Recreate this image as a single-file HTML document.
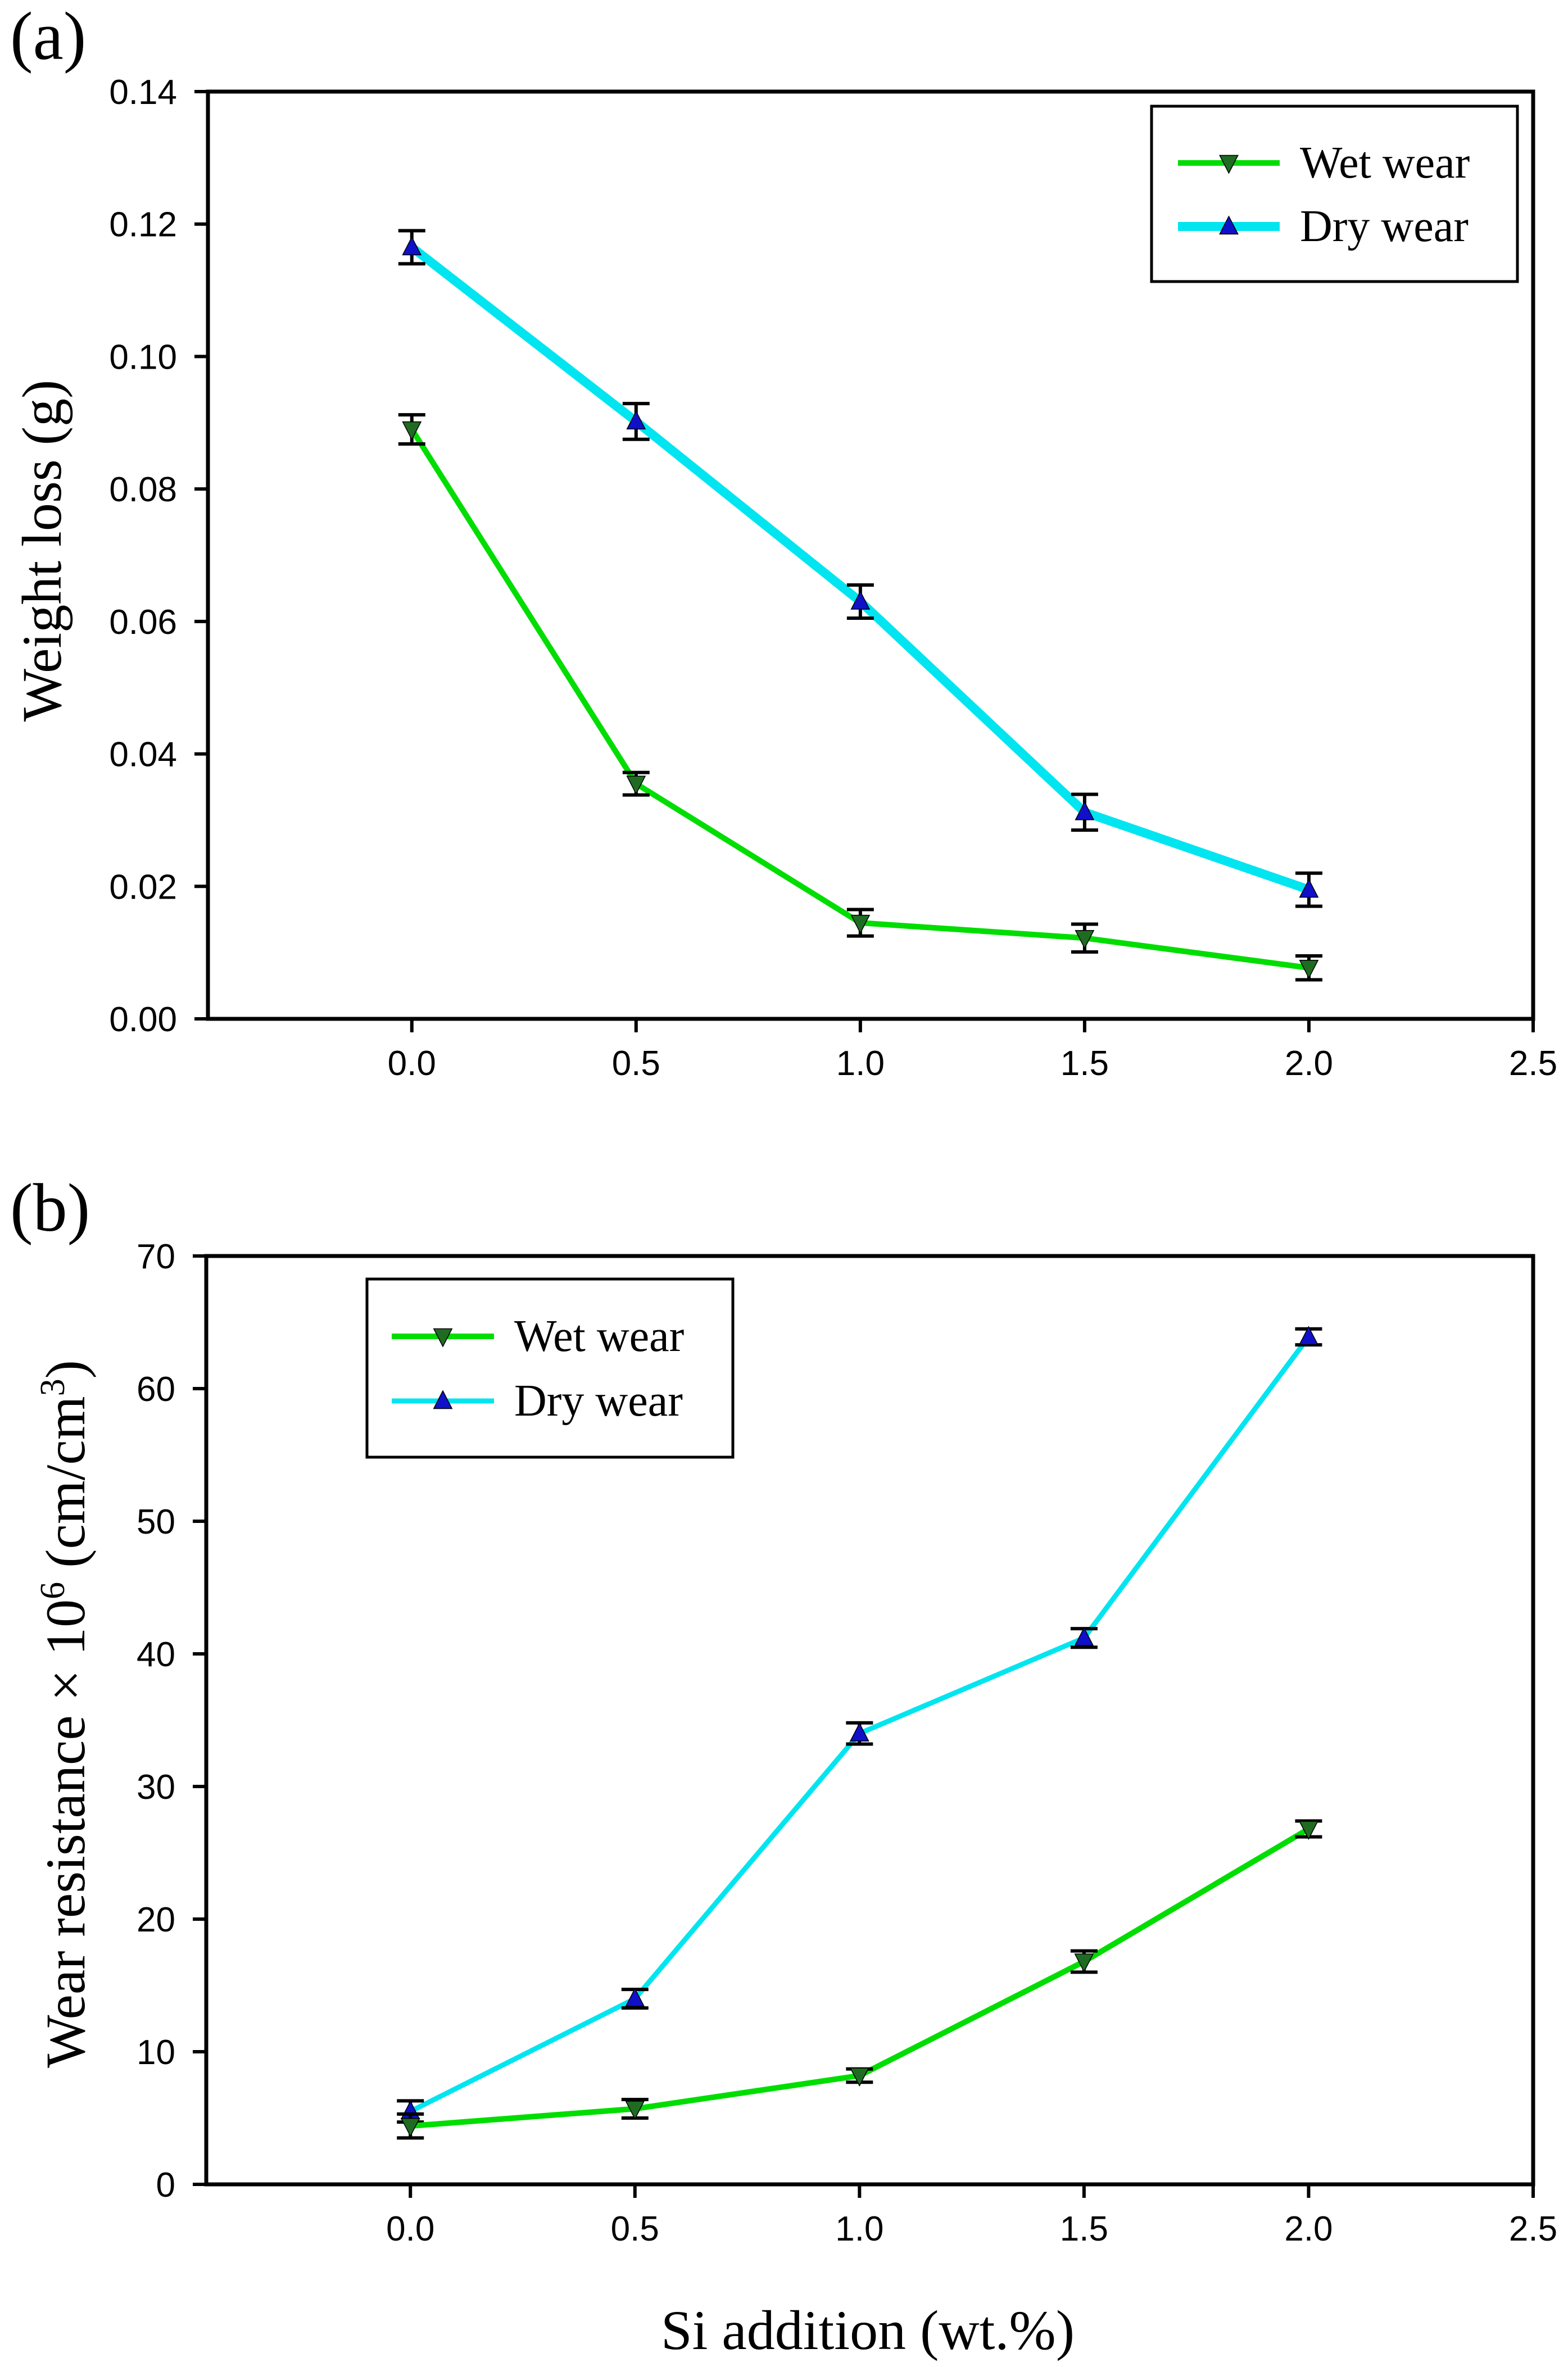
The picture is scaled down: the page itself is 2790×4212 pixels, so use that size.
<!DOCTYPE html>
<html><head><meta charset="utf-8">
<style>
html,body{margin:0;padding:0;background:#fff;}
svg{display:block;}
.tick{font-family:"Liberation Sans",sans-serif;font-size:62px;fill:#000;}
.serif{font-family:"Liberation Serif",serif;fill:#000;}
</style></head>
<body>
<svg id="chart" width="2790" height="4212" viewBox="0 0 2790 4212" xmlns="http://www.w3.org/2000/svg">
<text class="serif" x="18" y="105" font-size="122">(a)</text>
<text class="serif" x="18" y="2190" font-size="122">(b)</text>
<text class="serif" font-size="100" text-anchor="middle" transform="translate(108,980) rotate(-90)">Weight loss (g)</text>
<text class="serif" font-size="100" text-anchor="middle" transform="translate(150,3050) rotate(-90)">Wear resistance  × 10<tspan font-size="62" dy="-36">6</tspan><tspan dy="36"> (cm/cm</tspan><tspan font-size="62" dy="-36">3</tspan><tspan dy="36">)</tspan></text>
<text class="serif" font-size="100" text-anchor="middle" x="1544" y="4180">Si addition (wt.%)</text>
<g id="pa"></g><g id="pb"></g>
</svg>
<script>
const xCats = [0.0, 0.5, 1.0, 1.5, 2.0];
const xTicks = ["0.0","0.5","1.0","1.5","2.0","2.5"];
const aWet = [0.089, 0.0355, 0.0145, 0.0122, 0.0077];
const aWetErr = [0.0022, 0.0017, 0.002, 0.0021, 0.0018];
const aDry = [0.1165, 0.0902, 0.063, 0.0312, 0.0195];
const aDryErr = [0.0025, 0.0027, 0.0025, 0.0027, 0.0025];
const aYTicks = ["0.00","0.02","0.04","0.06","0.08","0.10","0.12","0.14"];
const bWet = [4.4, 5.7, 8.2, 16.8, 26.8];
const bWetErr = [0.9, 0.7, 0.5, 0.8, 0.6];
const bDry = [5.5, 14.0, 34.0, 41.2, 63.9];
const bDryErr = [0.8, 0.7, 0.8, 0.7, 0.6];
const bYTicks = ["0","10","20","30","40","50","60","70"];
const NS = "http://www.w3.org/2000/svg";
function mk(parent, tag, attrs){const e=document.createElementNS(NS,tag);for(const k in attrs)e.setAttribute(k,attrs[k]);parent.appendChild(e);return e;}
function tri(x,y,up){const s=18;return up?`${x},${y-s} ${x-s*0.9},${y+s*0.75} ${x+s*0.9},${y+s*0.75}`:`${x},${y+s} ${x-s*0.9},${y-s*0.75} ${x+s*0.9},${y-s*0.75}`;}
function panel(gid, box, ymax, yTicks, wet, wetErr, dry, dryErr, dryW, wetW, legend, p){
  const g=document.getElementById(gid);
  const xmin=-5/11, xmax=2.5;
  const X=v=>box.l+(v-xmin)/(xmax-xmin)*(box.r-box.l);
  const Y=v=>box.b-v/ymax*(box.b-box.t);
  const frame=mk(g,'rect',{x:box.l,y:box.t,width:box.r-box.l,height:box.b-box.t,fill:'none',stroke:'#000','stroke-width':7});
  
  
  yTicks.forEach((t,i)=>{const v=ymax*i/(yTicks.length-1);
    const tl=mk(g,'line',{x1:box.l-24,x2:box.l,y1:Y(v),y2:Y(v),stroke:'#000','stroke-width':6});
    
    
    const tx=mk(g,'text',{x:box.l-55,y:Y(v)+22,'text-anchor':'end',class:'tick'});tx.textContent=t;
    
    });
  xTicks.forEach((t,i)=>{const v=i*0.5;
    const tl=mk(g,'line',{x1:X(v),x2:X(v),y1:box.b,y2:box.b+24,stroke:'#000','stroke-width':6});
    
    
    const tx=mk(g,'text',{x:X(v),y:box.b+100,'text-anchor':'middle',class:'tick'});tx.textContent=t;
    
    });
  function series(vals, errs, color, w, up, name){
    const pl=mk(g,'polyline',{points:vals.map((v,i)=>X(xCats[i])+','+Y(v)).join(' '),fill:'none',stroke:color,'stroke-width':w,'stroke-linejoin':'round'});
    
    
    vals.forEach((v,i)=>{const x=X(xCats[i]);
      const eb=mk(g,'path',{d:`M${x} ${Y(v-errs[i])}V${Y(v+errs[i])}M${x-24} ${Y(v-errs[i])}H${x+24}M${x-24} ${Y(v+errs[i])}H${x+24}`,stroke:'#000','stroke-width':6,fill:'none'});
      
      
      const m=mk(g,'polygon',{points:tri(x,Y(v),up),fill:up?'#1010c8':'#1f6b22',stroke:'#000','stroke-width':1.5});
      
      });
  }
  series(dry,dryErr,'#00e5f0',dryW,true,'dry');
  series(wet,wetErr,'#00dd00',wetW,false,'wet');
  const L=legend;
  const lb=mk(g,'rect',{x:L.x,y:L.y,width:L.w,height:L.h,fill:'#fff',stroke:'#000','stroke-width':5});
  
  
  [['Wet wear','#00dd00',wetW,false,'wet'],['Dry wear','#00e5f0',dryW,true,'dry']].forEach((e,i)=>{
    const y=L.ly[i];
    const ll=mk(g,'line',{x1:L.lx1,x2:L.lx2,y1:y,y2:y,stroke:e[1],'stroke-width':e[2]});
    
    
    const x=(L.lx1+L.lx2)/2;
    const m=mk(g,'polygon',{points:tri(x,y,e[3]),fill:e[3]?'#1010c8':'#1f6b22',stroke:'#000','stroke-width':1.5});
    
    
    const t=mk(g,'text',{x:L.tx,y:y+26,class:'serif','font-size':80});t.textContent=e[0];
    
    
  });
}
panel('pa',{l:370,r:2728,t:163,b:1813},0.14,aYTicks,aWet,aWetErr,aDry,aDryErr,16,10,
  {x:2049,y:189,w:651,h:312,lx1:2096,lx2:2277,ly:[290,403],tx:2313},'a');
panel('pb',{l:367,r:2728,t:2235,b:3887},70,bYTicks,bWet,bWetErr,bDry,bDryErr,9,10,
  {x:653,y:2276,w:651,h:317,lx1:697,lx2:879,ly:[2378,2493],tx:915},'b');
</script>
</body></html>
